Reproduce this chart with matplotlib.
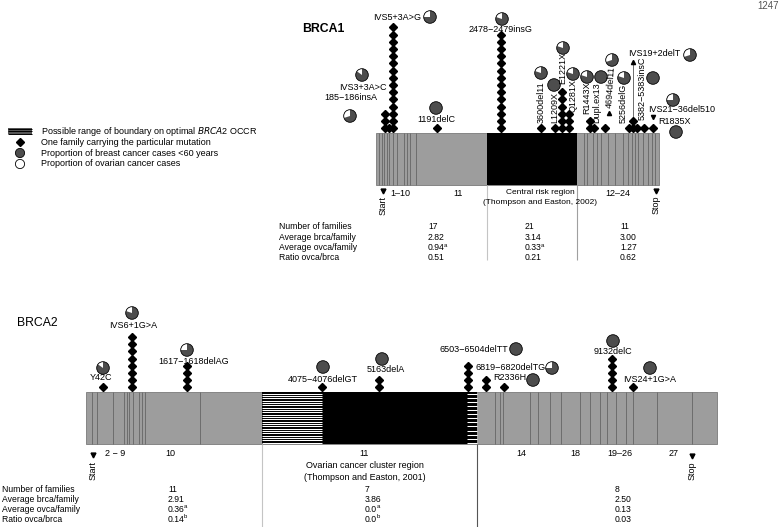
import matplotlib
matplotlib.use("Agg")
import matplotlib.pyplot as plt
from matplotlib.patches import Rectangle, Wedge, Circle
import numpy as np

plt.rcParams['font.family'] = ['Liberation Sans', 'DejaVu Sans']
plt.rcParams['mathtext.fontset'] = 'custom'
plt.rcParams['mathtext.rm'] = 'Liberation Sans'

GRAY = '#9d9d9d'
EXON = '#666666'
DARK = '#4d4d4d'
FS = 6.5
STEP = 7.2   # vertical spacing of stacked diamonds

# ---------------- BRCA1 ----------------
b1_names = ["185\u2212186insA", "IVS3+3A>C", "IVS5+3A>G", "1191delC", "2478\u22122479insG",
            "3600del11", "L1209X", "E1221X", "Q1281X", "R1443X", "Dupl.ex13", "4694del11",
            "5256delG", "IVS19+2delT", "5382\u22125383insC", "IVS21\u221236del510", "R1835X"]
b1_pos = [385, 389, 393, 437, 501, 541, 555, 562, 569, 590, 594, 605, 629, 633, 637, 644, 653]
b1_fam = [3, 1, 15, 1, 14, 1, 1, 6, 3, 2, 1, 1, 1, 2, 1, 1, 1]
b1_ovca = [0.3, 0.15, 0.25, 0, 0.2, 0.2, 0, 0.2, 0.2, 0.2, 0, 0.3, 0.2, 0.3, 0, 0.25, 0]
# pie centre, label anchor, rotation, alignment
b1_pie = [(350, 116), (362, 75), (430, 17), (436, 108), (502, 19), (541, 73), (554, 85),
          (563, 48), (573, 74), (587, 77), (601, 77), (612, 60), (624, 78), (690, 55),
          (653, 78), (673, 100), (676, 132)]
b1_lab = [(377, 98, 0, 'right'), (387, 88, 0, 'right'), (397, 18, 0, 'center'),
          (436, 120, 0, 'center'), (501, 29, 0, 'center'), (541, 123, 90, 'center'),
          (555, 123, 90, 'center'), (563, 84, 90, 'center'), (573, 112, 90, 'center'),
          (587, 114, 90, 'center'), (597, 123, 90, 'center'), (611, 108, 86, 'center'),
          (623, 123, 90, 'center'), (628, 53, 0, 'left'), (642, 120, 90, 'center'),
          (648, 110, 0, 'left'), (658, 122, 0, 'left')]
b1_exons = [379.3, 381.7, 384, 387.3, 389.3, 393.3, 396.7, 404, 407.3, 410, 416,
            584, 586.7, 593.3, 596.7, 600.7, 608.3, 615, 623.3, 628.3, 631.7, 635,
            638.3, 643.3, 648.3, 651.7, 655]
b1_bar = (376, 659, 132.7, 185)
b1_core = (486.7, 576.7)

# ---------------- BRCA2 ----------------
b2_names = ["Y42C", "IVS6+1G>A", "1617\u22121618delAG", "4075\u22124076delGT", "5163delA",
            "6503\u22126504delTT", "6819\u22126820delTG", "R2336H", "9132delC", "IVS24+1G>A"]
b2_pos = [103, 132, 187, 322, 379, 468, 486, 504, 612, 633]
b2_fam = [1, 8, 4, 1, 2, 4, 2, 1, 5, 1]
b2_ovca = [0.15, 0.2, 0.25, 0, 0, 0, 0.25, 0, 0, 0]
b2_pie = [(103, 368), (132, 313), (187, 350), (323, 367), (382, 359), (516, 349),
          (552, 368), (533, 380), (613, 341), (650, 368)]
b2_lab = [(101, 378, 0, 'center'), (133, 325, 0, 'center'), (194, 362, 0, 'center'),
          (323, 380, 0, 'center'), (386, 370, 0, 'center'), (508, 349, 0, 'right'),
          (476, 368, 0, 'left'), (493, 377, 0, 'left'), (613, 352, 0, 'center'),
          (623, 379, 0, 'left')]
b2_exons = [91.7, 97.3, 113.3, 124.3, 126.7, 129.3, 132.7, 139.3, 141.7, 145, 200,
            495, 500, 503.3, 530, 538.3, 550, 560.7, 580, 590, 600, 606.7, 616, 626,
            633.3, 656.7, 691.7]
b2_bar = (86, 717.3, 391.7, 444.3)
b2_stripes = [(261.7, 322.3, 22), (466.7, 477.3, 13)]
b2_core = (322.3, 466.7)

# ---------------- tables ----------------
rows = ["Number of families", "Average brca/family", "Average ovca/family", "Ratio ovca/brca"]
# (value, superscript)
b1_table = [[("17", ""), ("2.82", ""), ("0.94", "a"), ("0.51", "")],
            [("21", ""), ("3.14", ""), ("0.33", "a"), ("0.21", "")],
            [("11", ""), ("3.00", ""), ("1.27", ""), ("0.62", "")]]
b2_table = [[("11", ""), ("2.91", ""), ("0.36", "a"), ("0.14", "b")],
            [("7", ""), ("3.86", ""), ("0.0", "a"), ("0.0", "b")],
            [("8", ""), ("2.50", ""), ("0.13", ""), ("0.03", "")]]

legend_items = ["Possible range of boundary on optimal $\\it{BRCA2}$ OCCR",
                "One family carrying the particular mutation",
                "Proportion of breast cancer cases <60 years",
                "Proportion of ovarian cancer cases"]

fig = plt.figure(figsize=(7.79, 5.27), dpi=100)
ax = fig.add_axes([0, 0, 1, 1])
ax.set_xlim(0, 779)
ax.set_ylim(527, 0)
ax.axis('off')


def pie(x, y, ov, r=6.3):
    ax.add_patch(Circle((x, y), r, facecolor=DARK, edgecolor='none', zorder=5))
    if ov > 0:
        ax.add_patch(Wedge((x, y), r, 270 - ov * 360, 270, facecolor='white',
                           edgecolor='none', zorder=6))
    ax.add_patch(Circle((x, y), r, facecolor='none', edgecolor='black', lw=0.6, zorder=7))


def gene(bar, exons, core, pos, fam, ovca, pies, labs, names):
    x0, x1, top, bot = bar
    ax.add_patch(Rectangle((x0, top), x1 - x0, bot - top, facecolor=GRAY,
                           edgecolor='#7a7a7a', lw=0.6, zorder=1))
    ax.vlines(exons, top, bot, color=EXON, lw=0.6, zorder=2)
    ax.add_patch(Rectangle((core[0], top), core[1] - core[0], bot - top,
                           facecolor='black', edgecolor='none', zorder=3))
    for p, n in zip(pos, fam):
        ys = top - 4.4 - STEP * np.arange(n)
        ax.plot([p] * n, ys, 'D', color='black', ms=4.2, zorder=8)
    for (px, py), ov in zip(pies, ovca):
        pie(px, py, ov)
    for (lx, ly, rot, ha), name in zip(labs, names):
        ax.text(lx, ly, name, fontsize=FS, ha=ha, va='bottom' if rot else 'center',
                rotation=rot, zorder=9)


def table(x_lab, xs, ys, cols):
    for y, r in zip(ys, rows):
        ax.text(x_lab, y, r, fontsize=6.2, va='center')
    for x, col in zip(xs, cols):
        for y, (v, sup) in zip(ys, col):
            t = ax.text(x, y, v, fontsize=6.2, va='center')
            if sup:
                ax.annotate(sup, xy=(0.93, 0.75), xycoords=t, fontsize=4.3,
                            va='center', ha='left')


# BRCA1
ax.text(302, 29, "BRCA1", fontsize=8.8, fontweight='bold', va='center')
gene(b1_bar, b1_exons, b1_core, b1_pos, b1_fam, b1_ovca, b1_pie, b1_lab, b1_names)
ax.plot([633, 633], [62, 118], color='black', lw=0.4, zorder=2)
ax.plot(633, 62, '^', color='black', ms=3, zorder=8)
ax.plot(609, 113, '^', color='black', ms=3, zorder=8)
ax.plot(653, 117, 'v', color='black', ms=3, zorder=8)
ax.vlines(b1_core[0], b1_bar[3], 260, color='#c4c4c4', lw=0.8)
ax.vlines(b1_core[1], b1_bar[3], 260, color='#a0a0a0', lw=0.8)
ax.plot(383, 190.5, 'v', color='black', ms=3.5)
ax.text(383, 196, "Start", fontsize=FS, rotation=90, ha='center', va='top')
ax.plot(656, 190.5, 'v', color='black', ms=3.5)
ax.text(656, 196, "Stop", fontsize=FS, rotation=90, ha='center', va='top')
for x, s in [(400, "1\u201310"), (458, "11"), (618, "12\u201324")]:
    ax.text(x, 193, s, fontsize=FS, ha='center', va='center')
ax.text(540, 193, "Central risk region", fontsize=6, ha='center', va='center')
ax.text(540, 202.5, "(Thompson and Easton, 2002)", fontsize=6, ha='center', va='center')
table(279, [428, 525, 620], [226.7, 237, 247.5, 258], b1_table)

# BRCA2
ax.text(17, 322.7, "BRCA2", fontsize=8.8, va='center')
gene(b2_bar, b2_exons, b2_core, b2_pos, b2_fam, b2_ovca, b2_pie, b2_lab, b2_names)
for sx0, sx1, n in b2_stripes:
    top, bot = b2_bar[2], b2_bar[3]
    ax.add_patch(Rectangle((sx0, top), sx1 - sx0, bot - top, facecolor='black',
                           edgecolor='none', zorder=3))
    ax.hlines(np.linspace(top + 2, bot - 1.5, n), sx0, sx1, color='white', lw=0.75, zorder=4)
ax.vlines(261.7, b2_bar[3], 527, color='#c4c4c4', lw=0.8)
ax.vlines(477.3, b2_bar[3], 527, color='#555555', lw=0.8)
ax.plot(93, 455, 'v', color='black', ms=3.5)
ax.text(93, 461, "Start", fontsize=FS, rotation=90, ha='center', va='top')
ax.plot(692, 456, 'v', color='black', ms=3.5)
ax.text(692, 462, "Stop", fontsize=FS, rotation=90, ha='center', va='top')
for x, s in [(115, "2 \u2212 9"), (170, "10"), (364, "11"), (521, "14"), (575, "18"),
             (620, "19\u201326"), (674, "27")]:
    ax.text(x, 453, s, fontsize=FS, ha='center', va='center')
ax.text(365, 466, "Ovarian cancer cluster region", fontsize=6.5, ha='center', va='center')
ax.text(365, 477, "(Thompson and Easton, 2001)", fontsize=6.5, ha='center', va='center')
table(2, [168, 365, 615], [489, 499, 509, 519], b2_table)

# legend
ly = [131.3, 142.3, 153, 164]
ax.add_patch(Rectangle((8.3, 128.3), 24, 6, facecolor='#555555', edgecolor='none'))
ax.hlines([128.6, 131.3, 133.8], 8.3, 32.3, color='black', lw=0.7)
ax.plot(20, ly[1], 'D', color='black', ms=4.2)
ax.add_patch(Circle((20, ly[2]), 4.6, facecolor=DARK, edgecolor='black', lw=0.6))
ax.add_patch(Circle((20, ly[3]), 4.6, facecolor='white', edgecolor='black', lw=0.6))
for y, s in zip(ly, legend_items):
    ax.text(41, y, s, fontsize=FS, va='center')

ax.text(757, 6, "1247", fontsize=7, color='#555555', va='center')

fig.savefig("out.png", dpi=100)
